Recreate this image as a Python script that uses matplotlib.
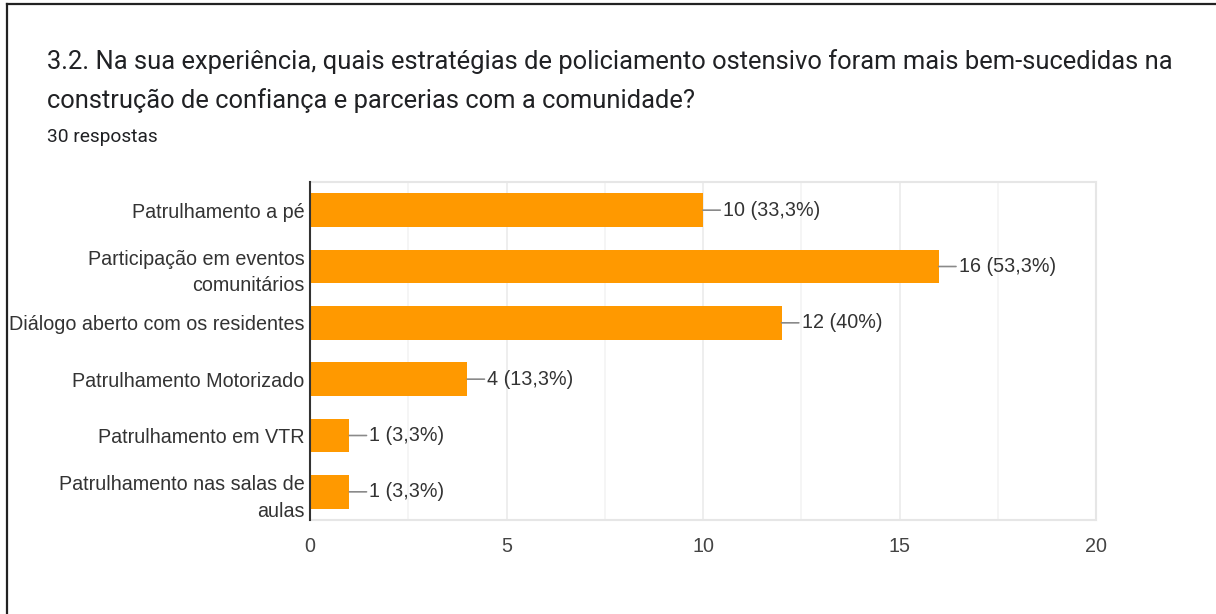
import matplotlib
import numpy as np
from matplotlib import pyplot as plt
from matplotlib.lines import Line2D

matplotlib.use("Agg")

# data
categories = [
    "Patrulhamento a pé",
    "Participação em eventos\ncomunitários",
    "Diálogo aberto com os residentes",
    "Patrulhamento Motorizado",
    "Patrulhamento em VTR",
    "Patrulhamento nas salas de\naulas",
]
counts = [10, 16, 12, 4, 1, 1]
percents = ["33,3%", "53,3%", "40%", "13,3%", "3,3%", "3,3%"]
x_ticks = [0, 5, 10, 15, 20]

title_lines = [
    "3.2. Na sua experiência, quais estratégias de policiamento ostensivo foram mais bem-sucedidas na",
    "construção de confiança e parcerias com a comunidade?",
]
subtitle = "30 respostas"

W, H = 1216, 614
DPI = 100
BAR_COLOR = "#ff9900"
LABEL_FONT = ["Liberation Sans", "DejaVu Sans"]
TITLE_FONT = ["Roboto", "DejaVu Sans"]
FS = 14.2

fig = plt.figure(figsize=(W / DPI, H / DPI), dpi=DPI)
fig.patch.set_facecolor("white")

# frame lines at left and top edge of the screenshot
fig.add_artist(Line2D([7 / W, 7 / W], [0, 1 - 4 / H], color="#222222", lw=1.6, transform=fig.transFigure))
fig.add_artist(Line2D([7 / W, 1], [1 - 4 / H, 1 - 4 / H], color="#222222", lw=1.6, transform=fig.transFigure))

for line, yc in zip(title_lines, [62, 101]):
    fig.text(47 / W, 1 - yc / H, line, ha="left", va="center", fontsize=18.4,
             family=TITLE_FONT, color="#202124")
fig.text(47 / W, 1 - 137 / H, subtitle, ha="left", va="center", fontsize=13.8,
         family=TITLE_FONT, color="#202124")

left, right, top, bottom = 310, 1096, 182, 520
ax = fig.add_axes([left / W, 1 - bottom / H, (right - left) / W, (bottom - top) / H])

y = np.arange(len(categories))
ax.barh(y, counts, height=0.6, color=BAR_COLOR, zorder=3)
ax.set_ylim(len(categories) - 0.5, -0.5)
ax.set_xlim(0, 20)

ax.set_xticks(x_ticks)
ax.set_xticks(np.arange(2.5, 20, 5), minor=True)
ax.grid(axis="x", which="major", color="#ebebeb", lw=1.2, zorder=0)
ax.grid(axis="x", which="minor", color="#f4f4f4", lw=1.2, zorder=0)
ax.tick_params(axis="x", which="both", length=0, pad=12, labelsize=FS, labelcolor="#444444")
ax.tick_params(axis="y", length=0, pad=4, labelsize=FS, labelcolor="#333333")
for lbl in ax.get_xticklabels():
    lbl.set_family(LABEL_FONT)

ax.set_yticks(y)
ax.set_yticklabels(categories, family=LABEL_FONT, linespacing=1.52)

for side in ["top", "right", "bottom"]:
    ax.spines[side].set_color("#e6e6e6")
    ax.spines[side].set_linewidth(1.5)
ax.spines["left"].set_color("#333333")
ax.spines["left"].set_linewidth(1.5)
ax.spines["left"].set_zorder(4)

for i, (c, p) in enumerate(zip(counts, percents)):
    ax.annotate(f"{c} ({p})", xy=(c, i), xytext=(20, 0), textcoords="offset pixels",
                ha="left", va="center", fontsize=FS, family=LABEL_FONT, color="#333333",
                arrowprops=dict(arrowstyle="-", color="#8a8a8a", lw=1.2, shrinkA=0, shrinkB=0),
                zorder=5)

fig.savefig("out.png", dpi=DPI, facecolor="white")
